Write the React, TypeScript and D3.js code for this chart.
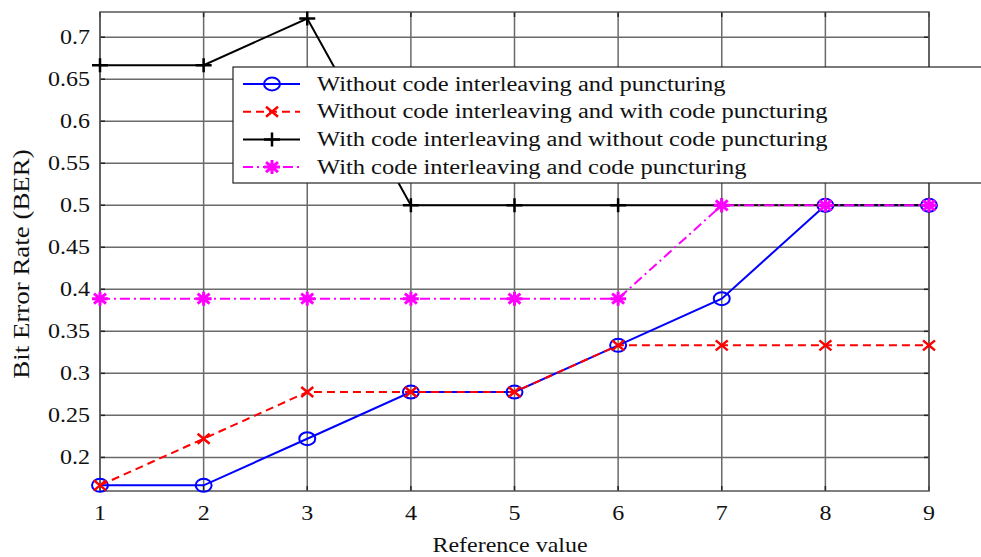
import React from "react";
import * as d3 from "d3";

const xValues = [1, 2, 3, 4, 5, 6, 7, 8, 9];
const blueValues = [0.1667, 0.1667, 0.2222, 0.2778, 0.2778, 0.3333, 0.3889, 0.5, 0.5];
const redValues = [0.1667, 0.2222, 0.2778, 0.2778, 0.2778, 0.3333, 0.3333, 0.3333, 0.3333];
const blackValues = [0.6667, 0.6667, 0.7222, 0.5, 0.5, 0.5, 0.5, 0.5, 0.5];
const magentaValues = [0.3889, 0.3889, 0.3889, 0.3889, 0.3889, 0.3889, 0.5, 0.5, 0.5];
const yTicks = [0.2, 0.25, 0.3, 0.35, 0.4, 0.45, 0.5, 0.55, 0.6, 0.65, 0.7];
const yTickLabels = ["0.2", "0.25", "0.3", "0.35", "0.4", "0.45", "0.5", "0.55", "0.6", "0.65", "0.7"];
const legendLabels = [
  "Without code interleaving and puncturing",
  "Without code interleaving and with code puncturing",
  "With code interleaving and without code puncturing",
  "With code interleaving and code puncturing",
];

const W = 981, H = 557;
const L = 100, R = 929, T = 12, B = 491;
const FONT = "'Liberation Serif', 'Times New Roman', serif";

type Series = { values: number[]; color: string; dash?: string; marker: string };
const series: Series[] = [
  { values: blueValues, color: "#0000ff", marker: "circle" },
  { values: redValues, color: "#ff0000", dash: "8,5", marker: "x" },
  { values: blackValues, color: "#000000", marker: "plus" },
  { values: magentaValues, color: "#ff00ff", dash: "10,4,2,4", marker: "star" },
];

function Marker({ type, x, y, color }: { type: string; x: number; y: number; color: string }) {
  if (type === "circle")
    return <ellipse cx={x} cy={y} rx={8} ry={6.5} fill="none" stroke={color} strokeWidth={2} />;
  if (type === "x")
    return (
      <path d={`M${x - 6},${y - 5}L${x + 6},${y + 5}M${x - 6},${y + 5}L${x + 6},${y - 5}`} stroke={color} strokeWidth={2.5} />
    );
  if (type === "plus")
    return (
      <path d={`M${x - 8},${y}L${x + 8},${y}M${x},${y - 7}L${x},${y + 7}`} stroke={color} strokeWidth={2.5} />
    );
  return (
    <path
      d={`M${x - 8},${y}L${x + 8},${y}M${x},${y - 7}L${x},${y + 7}M${x - 6},${y - 5}L${x + 6},${y + 5}M${x - 6},${y + 5}L${x + 6},${y - 5}`}
      stroke={color}
      strokeWidth={3}
    />
  );
}

function T2({ x, y, anchor, children, dy, sx = 1.2 }: { x: number; y: number; anchor?: string; children: React.ReactNode; dy?: string; sx?: number }) {
  return (
    <text transform={`translate(${x},${y}) scale(${sx},1)`} dy={dy} textAnchor={anchor || "start"} fontSize={20} fill="#111">
      {children}
    </text>
  );
}

export default function App() {
  const x = d3.scaleLinear().domain([1, 9]).range([L, R]);
  const y = d3.scaleLinear().domain([0.16, 0.73]).range([B, T]);
  const line = d3
    .line<number>()
    .x((_, i) => x(xValues[i]))
    .y((d) => y(d));

  const gridColor = "#6a6a6a";
  const legX = 233, legY = 67, legW = 770, legH = 116, rowH = 27.7;

  return (
    <svg
      width={W}
      height={H}
      style={{ position: "absolute", left: 0, top: 0, background: "#fff" }}
      fontFamily={FONT}
    >
      <rect x={0} y={0} width={W} height={H} fill="#fff" />
      {xValues.map((v) => (
        <line key={"gx" + v} x1={x(v)} x2={x(v)} y1={T} y2={B} stroke={gridColor} strokeWidth={1.5} />
      ))}
      {yTicks.map((v) => (
        <line key={"gy" + v} x1={L} x2={R} y1={y(v)} y2={y(v)} stroke={gridColor} strokeWidth={1.5} />
      ))}
      {yTicks.map((v) => (
        <g key={"ty" + v}>
          <line x1={L} x2={L + 5} y1={y(v)} y2={y(v)} stroke="#222" strokeWidth={1.5} />
          <line x1={R - 5} x2={R} y1={y(v)} y2={y(v)} stroke="#222" strokeWidth={1.5} />
        </g>
      ))}
      {xValues.map((v) => (
        <g key={"tx" + v}>
          <line x1={x(v)} x2={x(v)} y1={B} y2={B - 5} stroke="#222" strokeWidth={1.5} />
          <line x1={x(v)} x2={x(v)} y1={T} y2={T + 5} stroke="#222" strokeWidth={1.5} />
        </g>
      ))}
      <rect x={L} y={T} width={R - L} height={B - T} fill="none" stroke="#555" strokeWidth={1.5} />
      {yTicks.map((v, i) => (
        <T2 key={"ly" + v} x={L - 10} y={y(v)} dy="0.35em" anchor="end">
          {yTickLabels[i]}
        </T2>
      ))}
      {xValues.map((v) => (
        <T2 key={"lx" + v} x={x(v)} y={520} anchor="middle">
          {v}
        </T2>
      ))}
      <T2 x={510} y={552} anchor="middle">
        Reference value
      </T2>
      <text transform={`translate(29,264) rotate(-90) scale(1.17,1)`} textAnchor="middle" fontSize={23} fill="#111">
        Bit Error Rate (BER)
      </text>
      {series.map((s, si) => (
        <g key={"s" + si}>
          <path d={line(s.values) || ""} fill="none" stroke={s.color} strokeWidth={2} strokeDasharray={s.dash} />
          {s.values.map((v, i) => (
            <Marker key={i} type={s.marker} x={x(xValues[i])} y={y(v)} color={s.color} />
          ))}
        </g>
      ))}
      <rect x={legX} y={legY} width={legW} height={legH} fill="#fff" stroke="#222" strokeWidth={1.2} />
      {series.map((s, i) => {
        const cy = legY + 17 + i * rowH;
        return (
          <g key={"lg" + i}>
            <line x1={243} x2={300} y1={cy} y2={cy} stroke={s.color} strokeWidth={2} strokeDasharray={s.dash} />
            <Marker type={s.marker} x={272} y={cy} color={s.color} />
            <T2 x={317} y={cy} dy="0.33em" sx={1.225}>
              {legendLabels[i]}
            </T2>
          </g>
        );
      })}
    </svg>
  );
}
